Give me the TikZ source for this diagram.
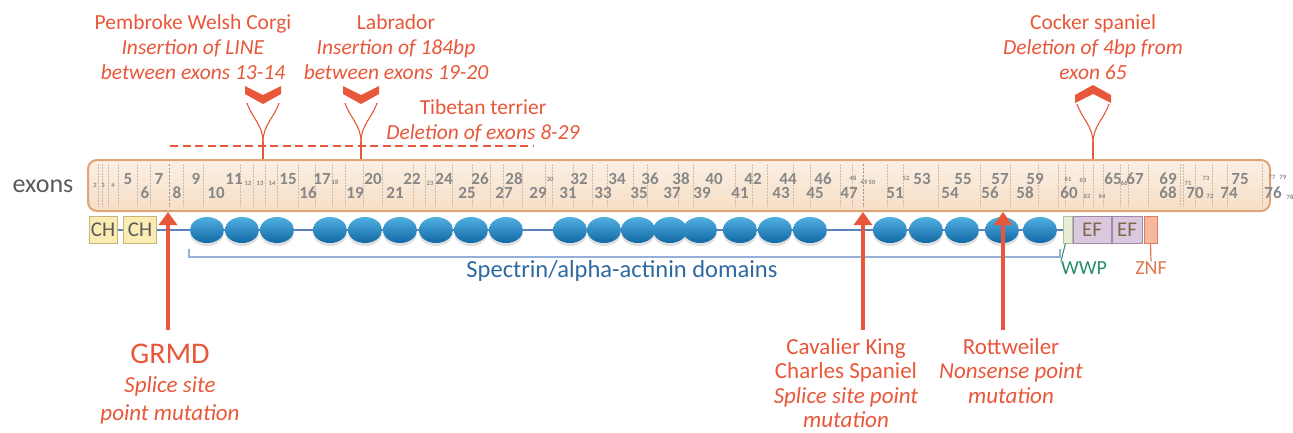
\documentclass[tikz,border=0pt]{standalone}
\usepackage{fontspec}
\setmainfont{Carlito}
\usetikzlibrary{arrows.meta,shapes.geometric,shadows}
\definecolor{mut}{RGB}{232,87,58}
\definecolor{exgrey}{RGB}{135,135,135}
\definecolor{sepcol}{RGB}{205,185,165}
\definecolor{barline}{RGB}{222,163,118}
\definecolor{bartop}{RGB}{251,240,228}
\definecolor{barbot}{RGB}{245,222,198}
\definecolor{bluetop}{RGB}{80,175,225}
\definecolor{bluebot}{RGB}{18,105,165}
\definecolor{blueline}{RGB}{92,130,190}
\definecolor{bracket}{RGB}{150,175,215}
\definecolor{spectxt}{RGB}{46,105,160}
\definecolor{chfill}{RGB}{250,236,178}
\definecolor{chdraw}{RGB}{200,180,120}
\definecolor{effill}{RGB}{218,200,222}
\definecolor{efdraw}{RGB}{160,135,170}
\definecolor{eftxt}{RGB}{125,105,75}
\definecolor{wwpfill}{RGB}{232,238,214}
\definecolor{wwpdraw}{RGB}{175,195,150}
\definecolor{wwptxt}{RGB}{40,140,110}
\definecolor{znffill}{RGB}{246,185,160}
\definecolor{znfdraw}{RGB}{225,125,90}
\definecolor{znftxt}{RGB}{225,120,75}
\definecolor{darkgrey}{RGB}{90,90,90}
\begin{document}
\begin{tikzpicture}[x=1pt,y=-1pt,
  lab/.style={text=mut, align=center, font=\fontsize{21.5}{25}\selectfont, inner sep=0pt},
  blab/.style={text=mut, align=center, font=\fontsize{23}{24.5}\selectfont, inner sep=0pt},
  exbig/.style={text=exgrey, font=\fontsize{17}{17}\selectfont\bfseries, inner sep=0pt},
  exsmall/.style={text=exgrey, font=\fontsize{6.5}{7}\selectfont\bfseries, inner sep=0pt},
  sepline/.style={draw=sepcol, line width=0.6pt, dash pattern=on 1.5pt off 1.5pt},
  repeatnode/.style={ellipse, minimum width=34pt, minimum height=26pt, inner sep=0pt,
     top color=bluetop, bottom color=bluebot,
     drop shadow={shadow xshift=0pt, shadow yshift=-3pt, opacity=0.25}},
  dombox/.style={rectangle, minimum height=27pt, inner sep=0pt, line width=1pt},
  mutarrow/.style={draw=mut, line width=4.5pt, -{Triangle[width=18pt,length=13pt]}},
  chev/.style={fill=mut},
  stem/.style={draw=mut, line width=1.1pt},
]
\useasboundingbox (0,0) rectangle (1293,432);

% exon bar
\node[rectangle, rounded corners=9pt, minimum width=1182pt, minimum height=51pt,
      top color=bartop, bottom color=barbot, draw=barline, line width=2pt] (bar) at (679,185.5) {};
\foreach \x in {98,102,108,118,137,150,183,203,240,253,265,277,298,315,332,345,363,
  382,413,425,435,452,472,490,503,522,545,552,573,592,607,633,647,
  678,693,735,752,767,793,810,840,852,887,903,938,
  980,1010,1038,1058,1065,1083,1093,1103,1120,1128,1148,1180,1183,1195,1212,1227,1262}
  \draw[sepline] (\x,164) -- (\x,207);
\draw[draw=sepcol!80!black, line width=0.7pt, dash pattern=on 2pt off 1.5pt] (169,164) -- (169,207);
\draw[draw=sepcol!80!black, line width=0.7pt, dash pattern=on 2pt off 1.5pt] (863,164) -- (863,207);

% exon numbers
\foreach \n/\x/\y in {5/128/179,6/145/193,7/159/179,8/177/193,9/196/179,10/216/193,11/234/179,
  15/288/179,16/308/193,17/322/179,19/355/193,20/373/179,21/395/193,22/412/179,24/444/179,
  25/467/193,26/480/179,27/504/193,28/514/179,29/538/193,31/568/193,32/579/179,33/603/193,
  34/617/179,35/639/193,36/650/179,37/672/193,38/681/179,39/702/193,40/714/179,41/740/193,
  42/753/179,43/781/193,44/788/179,45/815/193,46/823/179,47/849/193,51/895/193,53/922/179,
  54/950/193,55/963/179,56/990/193,57/1000/179,58/1025/193,59/1035/179,60/1069/193,
  65/1113/179,67/1135/179,68/1168/193,69/1168/179,70/1195/193,74/1229/193,75/1240/179,76/1273/193}
  \node[exbig] (ex\n) at (\x,\y) {\n};
\foreach \n/\x/\y in {2/95/185,3/103/185,4/113/185,12/248/183,13/260/183,14/272/183,18/335/182,
  23/430/183,30/550/179,48/853/178,49/864/182,50/872/182,52/906/178,61/1068/179,62/1087/196,
  63/1083/180,64/1102/196,66/1124/183,71/1188/183,72/1210/196,73/1206/178,77/1272/177,
  78/1290/197,79/1283/177}
  \node[exsmall] (ex\n) at (\x,\y) {\n};

\node[text=darkgrey, font=\fontsize{26}{26}\selectfont, inner sep=0pt] (exonslabel) at (43,186) {exons};

% protein domains
\draw[blueline, line width=1.2pt] (103,230) -- (1067,230);
\node[dombox, minimum width=28pt, fill=chfill, draw=chdraw, text=darkgrey, font=\fontsize{21}{21}\selectfont] (ch1) at (103,229.5) {CH};
\node[dombox, minimum width=33pt, fill=chfill, draw=chdraw, text=darkgrey, font=\fontsize{21}{21}\selectfont] (ch2) at (140,229.5) {CH};
\foreach \i/\x in {1/207,2/242,3/277,4/330,5/365,6/400,7/436,8/471,9/506,10/570,11/604,12/638,
  13/670,14/700,15/740,16/775,17/810,18/890,19/926,20/962,21/1002,22/1040}
  \node[repeatnode] (rep\i) at (\x,230) {};
\node[dombox, minimum width=9pt, fill=wwpfill, draw=wwpdraw] (wwpbox) at (1067.5,229.5) {};
\node[dombox, minimum width=38pt, fill=effill, draw=efdraw, text=eftxt, font=\fontsize{21}{21}\selectfont] (ef1) at (1092,229.5) {EF};
\node[dombox, minimum width=30pt, fill=effill, draw=efdraw, text=eftxt, font=\fontsize{21}{21}\selectfont] (ef2) at (1127,229.5) {EF};
\node[dombox, minimum width=13pt, fill=znffill, draw=znfdraw] (znfbox) at (1150.5,229.5) {};

\node[text=wwptxt, font=\fontsize{20}{20}\selectfont, inner sep=0pt] (wwp) at (1084,268) {WWP};
\node[text=znftxt, font=\fontsize{20}{20}\selectfont, inner sep=0pt] (znf) at (1151,268) {ZNF};
\draw[wwptxt, line width=1pt] (wwpbox.south) ++(-2,0) -- (wwp.north west);
\draw[znftxt, line width=1.2pt] (znfbox.south) -- (znf.north);

% spectrin bracket
\draw[bracket, line width=1.5pt] (189,249) -- (189,257) -- (1060,257) -- (1060,249);
\node[text=spectxt, font=\fontsize{24.5}{25}\selectfont, inner sep=0pt] (spectrin) at (622,271) {Spectrin/alpha-actinin domains};

% top mutation labels
\node[lab] (corgi) at (193,47) {Pembroke Welsh Corgi\\\textit{Insertion of LINE}\\\textit{between exons 13-14}};
\node[lab] (labrador) at (396,47) {Labrador\\\textit{Insertion of 184bp}\\\textit{between exons 19-20}};
\node[lab] (tibetan) at (483,120.5) {Tibetan terrier\\\textit{Deletion of exons 8-29}};
\node[lab] (cocker) at (1093,47) {Cocker spaniel\\\textit{Deletion of 4bp from}\\\textit{exon 65}};

% insertion markers (chevrons pointing down)
\foreach \nm/\x in {corgimark/263,labmark/361}{
  \fill[chev] (\x-18,86) -- (\x,95) -- (\x+18,86) -- (\x+18,94) -- (\x,104) -- (\x-18,94) -- cycle;
  \coordinate (\nm) at (\x,142);
  \draw[stem] (\x-16,103) .. controls (\x-11,118) and (\x,125) .. (\nm);
  \draw[stem] (\x+16,103) .. controls (\x+11,118) and (\x,125) .. (\nm);
  \draw[stem] (\nm) -- (\nm |- bar.north);
}
% deletion marker (chevron pointing up)
\fill[chev] (1075,95) -- (1093,85) -- (1111,95) -- (1111,103) -- (1093,94) -- (1075,103) -- cycle;
\coordinate (cockmark) at (1093,143);
\draw[stem] (1077,104) .. controls (1082,119) and (1093,126) .. (cockmark);
\draw[stem] (1109,104) .. controls (1104,119) and (1093,126) .. (cockmark);
\draw[stem] (cockmark) -- (cockmark |- bar.north);

% Tibetan terrier deletion
\coordinate (tibA) at (170,146);
\coordinate (tibB) at (534,146);
\draw[mut, line width=2pt, dash pattern=on 8pt off 4.5pt] (tibA) -- (tibB);

% bottom mutation labels and arrows
\node[text=mut, font=\fontsize{30}{30}\selectfont, inner sep=0pt] (grmd) at (170,354) {GRMD};
\node[blab, font=\fontsize{23}{28}\selectfont\itshape] (grmdsub) at (170,400) {Splice site\\point mutation};
\node[blab] (cavalier) at (846,383) {Cavalier King\\Charles Spaniel\\\textit{Splice site point}\\\textit{mutation}};
\node[blab] (rott) at (1011,371) {Rottweiler\\\textit{Nonsense point}\\\textit{mutation}};

\coordinate (grmdA) at (168,330);
\coordinate (cavA) at (863,330);
\coordinate (rottA) at (1003,330);
\draw[mutarrow] (grmdA) -- (grmdA |- bar.south);
\draw[mutarrow] (cavA) -- (cavA |- bar.south);
\draw[mutarrow] (rottA) -- (rottA |- bar.south);
\end{tikzpicture}
\end{document}
